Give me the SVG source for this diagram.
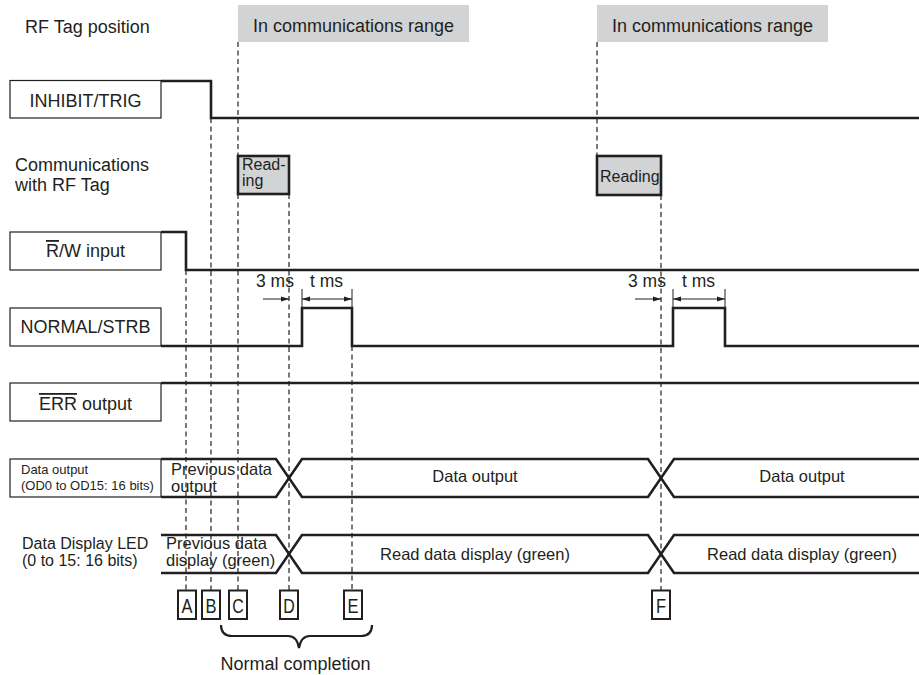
<svg xmlns="http://www.w3.org/2000/svg" width="919" height="675" viewBox="0 0 919 675">
<style>
text{font-family:"Liberation Sans",Arial,sans-serif;fill:#231f20}
.lbl{font-size:18px}
.sm{font-size:13px}
.bus{font-size:16.5px}
.rd{font-size:16px}
.ms{font-size:17.5px}
.box{fill:#fff;stroke:#231f20;stroke-width:1.2}
.sig{fill:none;stroke:#231f20;stroke-width:2.6;stroke-linejoin:miter}
.dash{fill:none;stroke:#231f20;stroke-width:1.2;stroke-dasharray:5 3.5}
.tick{fill:none;stroke:#231f20;stroke-width:1}
.gray{fill:#d1d3d4}
.rbox{fill:#d1d3d4;stroke:#231f20;stroke-width:2.6}
.lb{fill:#fff;stroke:#231f20;stroke-width:2}
.ov{text-decoration:overline}
</style>
<defs>
<marker id="ah" viewBox="0 0 8 6" refX="8" refY="3" markerWidth="8" markerHeight="6" markerUnits="userSpaceOnUse" orient="auto-start-reverse">
<path d="M0,0.6 L8,3 L0,5.4 Z" fill="#231f20"/>
</marker>
</defs>

<g id="rf-tag-position">
<text class="lbl" x="25" y="33">RF Tag position</text>
<rect class="gray" x="238" y="5" width="231" height="37"/>
<text class="lbl" x="353.5" y="32" text-anchor="middle">In communications range</text>
<rect class="gray" x="597" y="5" width="231" height="37"/>
<text class="lbl" x="712.5" y="32" text-anchor="middle">In communications range</text>
</g>

<g id="inhibit-trig">
<rect class="box" x="10" y="80.5" width="151" height="37.5"/>
<text class="lbl" x="85.5" y="107" text-anchor="middle">INHIBIT/TRIG</text>
<path class="sig" d="M161,81 H211 V118 H919"/>
</g>

<g id="communications">
<text class="lbl" x="15" y="171">Communications</text>
<text class="lbl" x="15" y="191">with RF Tag</text>
<rect class="rbox" x="238" y="156" width="51" height="38"/>
<text class="rd" x="242" y="170">Read-</text>
<text class="rd" x="242" y="186">ing</text>
<rect class="rbox" x="597" y="156" width="64" height="39"/>
<text class="rd" x="600" y="182">Reading</text>
</g>

<g id="rw-input">
<rect class="box" x="10" y="232" width="151" height="38"/>
<text class="lbl" x="85.5" y="257" text-anchor="middle"><tspan class="ov">R</tspan>/W input</text>
<path class="sig" d="M161,232 H186 V270 H919"/>
</g>

<g id="normal-strb">
<rect class="box" x="10" y="308" width="151" height="38"/>
<text class="lbl" x="85.5" y="333" text-anchor="middle">NORMAL/STRB</text>
<path class="sig" d="M161,346 H302 V308 H352 V346 H673 V308 H725 V346 H919"/>
<text class="ms" x="256" y="287">3 ms</text>
<text class="ms" x="310" y="287">t ms</text>
<text class="ms" x="628" y="287">3 ms</text>
<text class="ms" x="682" y="287">t ms</text>
</g>

<g id="err-output">
<rect class="box" x="10" y="383" width="151" height="38"/>
<text class="lbl" x="85.5" y="410" text-anchor="middle"><tspan class="ov">ERR</tspan> output</text>
<path class="sig" d="M161,383 H919"/>
</g>

<g id="data-output">
<rect class="box" x="10" y="459" width="151" height="38"/>
<text class="sm" x="21" y="474">Data output</text>
<text class="sm" x="21" y="490">(OD0 to OD15: 16 bits)</text>
<path class="sig" d="M161,459 H276 L302,497 H648 L674,459 H919"/>
<path class="sig" d="M161,497 H276 L302,459 H648 L674,497 H919"/>
<text class="bus" x="171" y="475">Previous data</text>
<text class="bus" x="171" y="492">output</text>
<text class="bus" x="475" y="482" text-anchor="middle">Data output</text>
<text class="bus" x="802" y="482" text-anchor="middle">Data output</text>
</g>

<g id="data-display-led">
<text class="rd" x="22" y="549">Data Display LED</text>
<text class="rd" x="22" y="566">(0 to 15: 16 bits)</text>
<path class="sig" d="M161,535 H276 L302,573 H648 L674,535 H919"/>
<path class="sig" d="M161,573 H276 L302,535 H648 L674,573 H919"/>
<text class="bus" x="166" y="549">Previous data</text>
<text class="bus" x="166" y="566">display (green)</text>
<text class="bus" x="475" y="560" text-anchor="middle">Read data display (green)</text>
<text class="bus" x="802" y="560" text-anchor="middle">Read data display (green)</text>
</g>

<g id="connectors">
<path class="dash" d="M186,270 V591"/>
<path class="dash" d="M211,118 V591"/>
<path class="dash" d="M238,42 V156 M238,194 V591"/>
<path class="dash" d="M289,194 V591"/>
<path class="dash" d="M352,346 V591"/>
<path class="dash" d="M597,42 V156"/>
<path class="dash" d="M661,195 V591"/>
<path class="tick" d="M302,289 V308 M352,289 V308 M673,289 V308 M725,289 V308"/>
<path class="tick" d="M263,299 H289" marker-end="url(#ah)"/>
<path class="tick" d="M302,299 H352" marker-start="url(#ah)" marker-end="url(#ah)"/>
<path class="tick" d="M635,299 H661" marker-end="url(#ah)"/>
<path class="tick" d="M673,299 H725" marker-start="url(#ah)" marker-end="url(#ah)"/>
</g>

<g id="markers">
<rect class="lb" x="178" y="590.5" width="18" height="28.5"/>
<text x="187" y="613" font-size="21" text-anchor="middle" textLength="11" lengthAdjust="spacingAndGlyphs">A</text>
<rect class="lb" x="202" y="590.5" width="18" height="28.5"/>
<text x="211" y="613" font-size="21" text-anchor="middle" textLength="11" lengthAdjust="spacingAndGlyphs">B</text>
<rect class="lb" x="229" y="590.5" width="18" height="28.5"/>
<text x="238" y="613" font-size="21" text-anchor="middle" textLength="11.5" lengthAdjust="spacingAndGlyphs">C</text>
<rect class="lb" x="280" y="590.5" width="18" height="28.5"/>
<text x="289" y="613" font-size="21" text-anchor="middle" textLength="11.5" lengthAdjust="spacingAndGlyphs">D</text>
<rect class="lb" x="344" y="590.5" width="18" height="28.5"/>
<text x="353" y="613" font-size="21" text-anchor="middle" textLength="11" lengthAdjust="spacingAndGlyphs">E</text>
<rect class="lb" x="652" y="590.5" width="18" height="28.5"/>
<text x="661" y="613" font-size="21" text-anchor="middle" textLength="10" lengthAdjust="spacingAndGlyphs">F</text>
</g>

<g id="normal-completion">
<path d="M221,625 Q221,636 232,636 H288 Q297,636 299,648 Q301,636 310,636 H361 Q372,636 372,625" fill="none" stroke="#231f20" stroke-width="2.2"/>
<text class="lbl" x="295.5" y="670" text-anchor="middle">Normal completion</text>
</g>
</svg>
